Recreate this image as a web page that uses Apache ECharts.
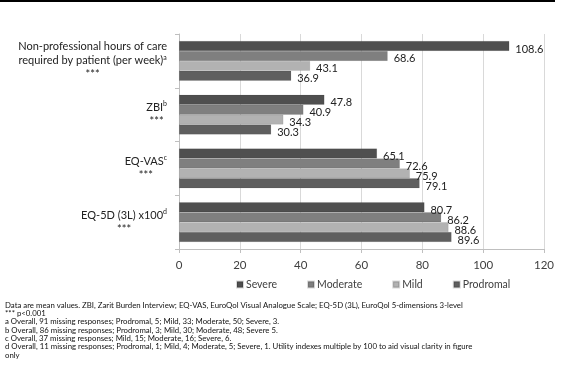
<!DOCTYPE html>
<html>
<head>
<meta charset="utf-8">
<script src="https://cdn.jsdelivr.net/npm/echarts@6/dist/echarts.min.js"></script>
<style>
html,body{margin:0;padding:0;background:#fff;}
#c{width:571px;height:389px;}
</style>
</head>
<body>
<div id="c"></div>
<script>
const categories = [
  ['Non-professional hours of care', 'required by patient (per week)'],
  ['ZBI'],
  ['EQ-VAS'],
  ['EQ-5D (3L) x100']
];
const superscripts = ['a', 'b', 'c', 'd'];
const seriesNames = ['Severe', 'Moderate', 'Mild', 'Prodromal'];
const severe = [108.6, 47.8, 65.1, 80.7];
const moderate = [68.6, 40.9, 72.6, 86.2];
const mild = [43.1, 34.3, 75.9, 88.6];
const prodromal = [36.9, 30.3, 79.1, 89.6];
const xTicks = [0, 20, 40, 60, 80, 100, 120];
const footnotes = [
  'Data are mean values. ZBI, Zarit Burden Interview; EQ-VAS, EuroQol Visual Analogue Scale; EQ-5D (3L), EuroQol 5-dimensions 3-level',
  '*** p<0.001',
  'a Overall, 91 missing responses; Prodromal, 5; Mild, 33; Moderate, 50; Severe, 3.',
  'b Overall, 86 missing responses; Prodromal, 3; Mild, 30; Moderate, 48; Severe 5.',
  'c Overall, 37 missing responses; Mild, 15; Moderate, 16; Severe, 6.',
  'd Overall, 11 missing responses; Prodromal, 1; Mild, 4; Moderate, 5; Severe, 1. Utility indexes multiple by 100 to aid visual clarity in figure',
  'only'
];

const colors = ['#4f4f4f', '#7f7f7f', '#b2b2b2', '#5f5f5f'];
const allData = [severe, moderate, mild, prodromal];
const FONT = 'Lato, "Open Sans", sans-serif';

const catKeys = categories.map((c, i) => String(i));

const chart = echarts.init(document.getElementById('c'), null, {renderer: 'canvas'});
chart.setOption({
  animation: false,
  color: colors,
  textStyle: {fontFamily: FONT},
  grid: {left: 179, right: 27, top: 34, bottom: 140, containLabel: false},
  legend: {
    data: seriesNames,
    left: 231, top: 274,
    itemWidth: 6, itemHeight: 6, itemGap: 30,
    icon: 'rect',
    textStyle: {fontFamily: FONT, fontSize: 10.5, color: '#404040', padding: [0, 0, 0, -2]}
  },
  xAxis: {
    type: 'value', min: xTicks[0], max: xTicks[xTicks.length - 1], interval: 20,
    axisLine: {show: true, lineStyle: {color: '#bfbfbf'}},
    axisTick: {show: true, length: 4, lineStyle: {color: '#bfbfbf'}},
    splitLine: {show: true, lineStyle: {color: '#d9d9d9'}},
    axisLabel: {fontFamily: FONT, fontSize: 11.5, color: '#404040', margin: 10}
  },
  yAxis: {
    type: 'category', inverse: true, data: catKeys,
    axisLine: {show: true, lineStyle: {color: '#bfbfbf'}},
    axisTick: {show: true, length: 4, lineStyle: {color: '#bfbfbf'}},
    axisLabel: {
      margin: 12,
      fontFamily: FONT, fontSize: 11, color: '#222',
      formatter: function (v) {
        const i = Number(v);
        const lines = categories[i].map(t => '{t|' + t + '}');
        lines[lines.length - 1] += '{s|' + superscripts[i] + '}';
        lines.push('{t|***}');
        return lines.join('\n');
      },
      rich: {
        t: {fontFamily: FONT, fontSize: 11, color: '#222', align: 'center', lineHeight: 14},
        s: {fontFamily: FONT, fontSize: 7, color: '#222', align: 'center', verticalAlign: 'top', lineHeight: 14, padding: [0, 0, 4, 0]}
      }
    }
  },
  series: seriesNames.map((name, k) => ({
    name: name, type: 'bar',
    data: allData[k],
    barGap: '0%', barCategoryGap: '26%',
    itemStyle: {color: colors[k], borderColor: 'rgba(0,0,0,0.15)', borderWidth: 0.5},
    label: {
      show: true, position: 'right', distance: 6, offset: [0, 3],
      fontFamily: FONT, fontSize: 11, color: '#222',
      formatter: p => p.value.toFixed(1)
    }
  })),
  graphic: [
    {type: 'rect', shape: {x: 0, y: 0, width: 555, height: 2}, style: {fill: '#000'}},
    {
      type: 'text', left: 5, top: 301,
      style: {text: footnotes.join('\n'), fontFamily: FONT, fontSize: 7.8, lineHeight: 8.35, fill: '#111'}
    }
  ]
});
</script>
</body>
</html>
